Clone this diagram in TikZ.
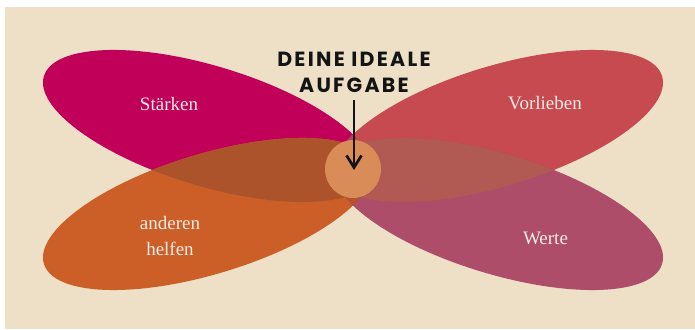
\documentclass[tikz,border=0pt]{standalone}
\usepackage{fontspec}
\setmainfont{Liberation Serif}
\newfontfamily\titlefont[LetterSpace=11]{Poppins}
\usetikzlibrary{arrows.meta}
\definecolor{bgbeige}{HTML}{EDE0C6}
\definecolor{cMag}{HTML}{C1005A}
\definecolor{cRed}{HTML}{C74A50}
\definecolor{cOra}{HTML}{CC5F28}
\definecolor{cMau}{HTML}{AE4D6A}
\definecolor{cMO}{HTML}{AC532B}
\definecolor{cRW}{HTML}{B05A53}
\definecolor{cMR}{HTML}{A8485F}
\definecolor{cOW}{HTML}{B4512E}
\definecolor{cMid}{HTML}{D98C57}
\definecolor{labeltext}{HTML}{F7EBE4}
\definecolor{titleblack}{HTML}{141414}
\newcommand\pathMag{[rotate around={-16.9:(208,126)}] (208,126) ellipse [x radius=171.5pt, y radius=60pt]}
\newcommand\pathRed{[rotate around={16.9:(498,126)}] (498,126) ellipse [x radius=171.5pt, y radius=60pt]}
\newcommand\pathOra{[rotate around={16.9:(208,214)}] (208,214) ellipse [x radius=171.5pt, y radius=60pt]}
\newcommand\pathMau{[rotate around={-16.9:(498,214)}] (498,214) ellipse [x radius=171.5pt, y radius=60pt]}
\begin{document}
\begin{tikzpicture}[x=1pt,y=-1pt,
  lbl/.style={text=labeltext, font=\fontsize{19}{26}\selectfont, inner sep=0pt, align=center},
  ttl/.style={text=titleblack, font=\titlefont\bfseries\fontsize{20.5}{26}\selectfont, inner sep=0pt, align=center},
  pointer/.style={draw=titleblack, line width=2.7pt, -{Straight Barb[length=12pt,width=15pt]}}]
\useasboundingbox (0,0) rectangle (695,329);
\fill[bgbeige] (5,7) rectangle (695,329);
% petals
\fill[cMag] \pathMag;
\fill[cRed] \pathRed;
\fill[cOra] \pathOra;
\fill[cMau] \pathMau;
% overlaps
\begin{scope}\clip \pathMag; \fill[cMR] \pathRed; \end{scope}
\begin{scope}\clip \pathOra; \fill[cOW] \pathMau; \end{scope}
\begin{scope}\clip \pathMag; \fill[cMO] \pathOra; \end{scope}
\begin{scope}\clip \pathRed; \fill[cRW] \pathMau; \end{scope}
% centre
\fill[cMid] (353,169) ellipse [x radius=28pt, y radius=29pt];
% labels
\node[lbl, anchor=base] (staerken) at (169,110) {Stärken};
\node[lbl, anchor=base] (vorlieben) at (545,109.5) {Vorlieben};
\node[lbl, anchor=base] (werte) at (545.5,244) {Werte};
\node[lbl] (helfen) at (170,236) {anderen\\helfen};
% title and arrow
\node[ttl] (title) at (354,72.5) {DEINE IDEALE\\AUFGABE};
\coordinate (goal) at (354,170);
\draw[pointer] ([yshift=-7pt]title.south) -- (goal);
\end{tikzpicture}
\end{document}
